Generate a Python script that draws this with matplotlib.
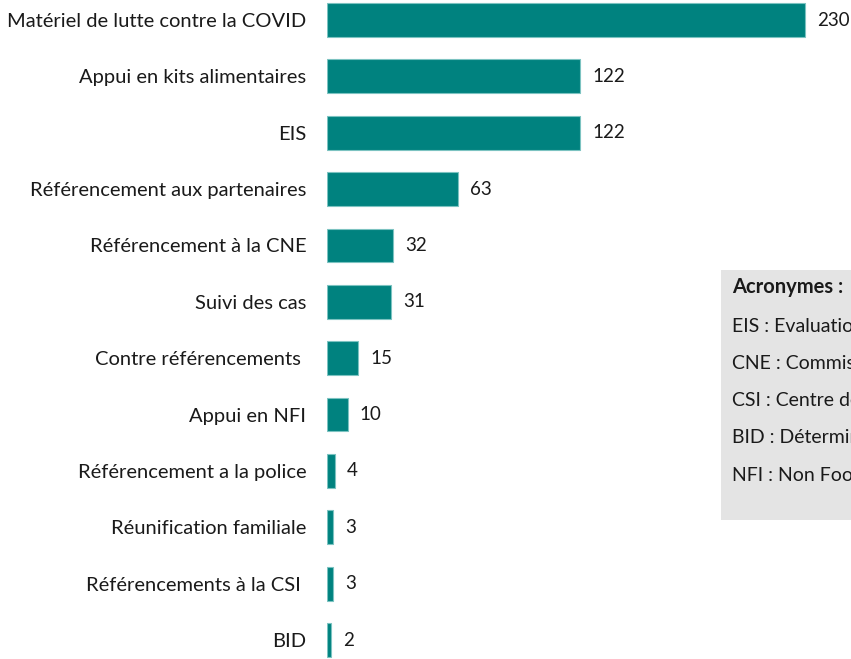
import matplotlib.pyplot as plt
from matplotlib.patches import Rectangle

plt.rcParams['font.family'] = ['Lato', 'DejaVu Sans']

categories = [
    "Matériel de lutte contre la COVID",
    "Appui en kits alimentaires",
    "EIS",
    "Référencement aux partenaires",
    "Référencement à la CNE",
    "Suivi des cas",
    "Contre référencements ",
    "Appui en NFI",
    "Référencement a la police",
    "Réunification familiale",
    "Référencements à la CSI ",
    "BID",
]
values = [230, 122, 122, 63, 32, 31, 15, 10, 4, 3, 3, 2]

acronyms_title = "Acronymes :"
acronyms = [
    "EIS : Evaluation Initiale de Sécurité",
    "CNE : Commission Nationale pour les Enfants",
    "CSI : Centre de Santé Intégré",
    "BID : Détermination de l'Intérêt Supérieur",
    "NFI : Non Food Items",
]

W, H = 851, 659
fig = plt.figure(figsize=(W / 100, H / 100), dpi=100)
ax = fig.add_axes([327 / W, 0, 1 - 327 / W, 1])

pos = list(range(len(categories)))
ax.barh(pos, values, height=0.6, color="#00827f", edgecolor="#7cc3c1", linewidth=0.8)
for p, v in zip(pos, values):
    ax.annotate(str(v), (v, p), xytext=(8.5, 0), textcoords="offset points",
                va="center", ha="left", fontsize=13.5, color="#1a1a1a")

ax.set_xlim(0, 252.2)
ax.set_ylim(11.337, -0.355)
ax.set_yticks(pos)
ax.set_yticklabels(categories, fontsize=14.5, color="#1a1a1a")
ax.tick_params(axis="y", length=0, pad=15)
ax.set_xticks([])
for s in ax.spines.values():
    s.set_visible(False)

# acronym box, cut by the right edge as in the source
fig.patches.append(Rectangle((721 / W, 1 - 520 / H), 200 / W, 250 / H,
                             transform=fig.transFigure, facecolor="#e4e4e4",
                             edgecolor="none", zorder=0))
fig.text(732 / W, 1 - 287 / H, acronyms_title, fontsize=14.5, fontweight="bold",
         color="#1a1a1a", va="center")
for i, line in enumerate(acronyms):
    fig.text(732 / W, 1 - (326 + 37.3 * i) / H, line, fontsize=14,
             color="#1a1a1a", va="center")

fig.savefig("out.png", dpi=100)
